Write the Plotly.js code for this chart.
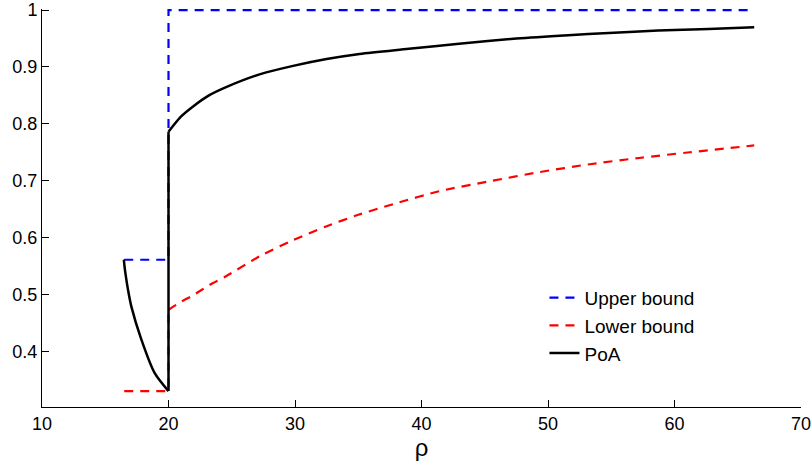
<!DOCTYPE html>
<html>
<head>
<meta charset="utf-8">
<script src="https://cdn.plot.ly/plotly-3.0.1.min.js"></script>
<style>html,body{margin:0;padding:0;background:#fff}#chart{width:811px;height:467px}</style>
</head>
<body>
<div id="chart"></div>
<script>
// Upper bound
const upperX = [16.5, 20.0, 20.0, 66.3];
const upperY = [0.561, 0.561, 1.0, 1.0];

// Lower bound: flat part + jump, then curve
const lowerFlatX = [16.5, 20.0, 20.0];
const lowerFlatY = [0.330, 0.330, 0.473];
const lowerCurveX = [20.0, 20.2, 21.0, 21.9, 23.2, 24.55, 27.2, 29.8, 32.4, 35.0, 37.8, 41.5, 45.4, 49.3, 53.3, 57.2, 61.2, 66.3];
const lowerCurveY = [0.473, 0.476, 0.487, 0.498, 0.516, 0.532, 0.567, 0.595, 0.619, 0.640, 0.659, 0.682, 0.699, 0.715, 0.729, 0.740, 0.750, 0.762];

// PoA: left branch, jump at rho = 20, right branch
const poaLeftX = [16.47, 16.52, 16.59, 16.8, 17.06, 17.85, 18.9, 20.0];
const poaLeftY = [0.561, 0.550, 0.538, 0.508, 0.479, 0.421, 0.362, 0.330];
const poaJumpX = [20.0, 20.0];
const poaJumpY = [0.330, 0.786];
const poaRightX = [20.0, 21.0, 21.97, 23.2, 24.6, 27.2, 29.85, 32.5, 35.1, 39.0, 42.97, 47.5, 51.6, 54.8, 58.7, 62.7, 66.3];
const poaRightY = [0.786, 0.813, 0.831, 0.850, 0.865, 0.887, 0.902, 0.914, 0.923, 0.932, 0.941, 0.950, 0.956, 0.960, 0.964, 0.967, 0.970];

const xTicks = [10, 20, 30, 40, 50, 60, 70];
const yTicks = [0.4, 0.5, 0.6, 0.7, 0.8, 0.9, 1];
const yTickText = ['0.4', '0.5', '0.6', '0.7', '0.8', '0.9', '1'];

const FONT = 'Liberation Sans, Arial, sans-serif';
const DASH = '9px,7px';

const traces = [
  {x: upperX, y: upperY, mode: 'lines', name: 'Upper bound', legendgroup: 'a',
   line: {color: '#0000ff', width: 2.2, dash: DASH}},
  {x: lowerFlatX, y: lowerFlatY, mode: 'lines', name: 'Lower bound', legendgroup: 'b',
   line: {color: '#ff0000', width: 2.2, dash: DASH}},
  {x: lowerCurveX, y: lowerCurveY, mode: 'lines', name: 'Lower bound', legendgroup: 'b', showlegend: false,
   line: {color: '#ff0000', width: 2.2, dash: DASH, shape: 'spline', smoothing: 0.8}},
  {x: poaLeftX, y: poaLeftY, mode: 'lines', name: 'PoA', legendgroup: 'c',
   line: {color: '#000000', width: 2.5, shape: 'spline', smoothing: 0.8}},
  {x: poaJumpX, y: poaJumpY, mode: 'lines', name: 'PoA', legendgroup: 'c', showlegend: false,
   line: {color: '#000000', width: 2.5}},
  {x: poaRightX, y: poaRightY, mode: 'lines', name: 'PoA', legendgroup: 'c', showlegend: false,
   line: {color: '#000000', width: 2.5, shape: 'spline', smoothing: 0.8}}
];

const layout = {
  width: 811, height: 467,
  margin: {l: 42, r: 10, t: 9, b: 60, pad: 0},
  paper_bgcolor: '#ffffff', plot_bgcolor: '#ffffff',
  font: {family: FONT, size: 18, color: '#000'},
  showlegend: true,
  legend: {x: 0.662, y: 0.322, xanchor: 'left', yanchor: 'top',
           bgcolor: 'rgba(255,255,255,0)', borderwidth: 0,
           font: {family: FONT, size: 19, color: '#000'},
           traceorder: 'normal', tracegroupgap: 0},
  xaxis: {range: [10, 70], tickvals: xTicks, ticktext: xTicks.map(String),
          ticks: 'inside', ticklen: 7, tickcolor: '#000', tickwidth: 1,
          showline: true, linecolor: '#000', linewidth: 1, mirror: false,
          showgrid: false, zeroline: false, ticklabeloverflow: 'allow',
          tickfont: {family: FONT, size: 18, color: '#000'},
          title: {text: 'ρ', font: {family: FONT, size: 24, color: '#000'}, standoff: 2}},
  yaxis: {range: [0.302, 1.002], tickvals: yTicks, ticktext: yTickText,
          ticks: 'inside', ticklen: 7, tickcolor: '#000', tickwidth: 1,
          showline: true, linecolor: '#000', linewidth: 1, mirror: false,
          showgrid: false, zeroline: false, ticklabeloverflow: 'allow',
          tickfont: {family: FONT, size: 18, color: '#000'}}
};

Plotly.newPlot('chart', traces, layout, {displayModeBar: false, staticPlot: true});
</script>
</body>
</html>
